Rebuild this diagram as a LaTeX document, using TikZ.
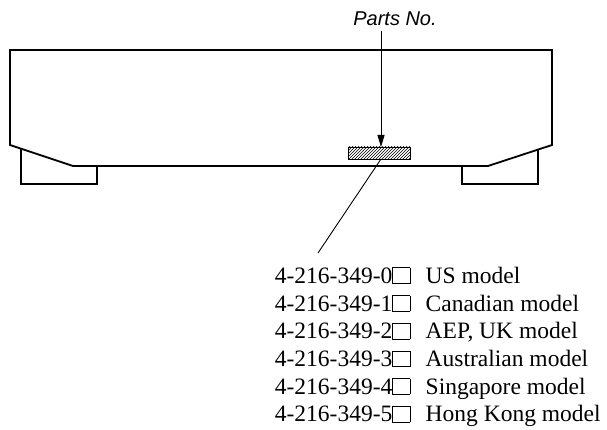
\documentclass[tikz,border=0pt]{standalone}
\usepackage{fontspec}
\setmainfont{Liberation Serif}
\newfontfamily\labelfont{Liberation Sans}
\usetikzlibrary{arrows.meta,patterns}
\newcommand{\emptybox}{{\setlength{\fboxrule}{0.8pt}\setlength{\fboxsep}{0pt}\fbox{\rule{0pt}{0.64em}\hspace{0.7em}}}}
\tikzset{
  outline/.style={line width=1.8pt, line join=miter},
  footline/.style={line width=1.6pt},
  listline/.style={anchor=base west, inner sep=0pt, font=\fontsize{23.5}{27.7}\selectfont},
  arrowline/.style={line width=0.9pt, -{Triangle[length=12pt,width=7pt]}},
}
\begin{document}
\begin{tikzpicture}[x=1pt,y=-1pt]
\useasboundingbox (0,0) rectangle (607,430);
% body
\draw[outline] (10,50) -- (552,50) -- (552,145) -- (488,166) -- (73,166) -- (10,145) -- cycle;
% feet
\draw[footline] (21,148.7) -- (21,184) -- (97,184) -- (97,166);
\draw[footline] (462,166) -- (462,184) -- (538,184) -- (538,149.6);
% label plate
\node[draw, line width=0.9pt, minimum width=62pt, minimum height=12pt, inner sep=0pt,
      pattern=north east lines] (plate) at (379,153) {};
% parts no
\node[inner sep=0pt, anchor=base, font=\labelfont\itshape\fontsize{20}{24}\selectfont] (partsno) at (395,26) {Parts No.};
\coordinate (atop) at (381,31);
\coordinate (abot) at (381,147);
\draw[arrowline] (atop) -- (abot);
\coordinate (lstart) at (381,159);
\coordinate (lend) at (318,253);
\draw[line width=0.9pt] (lstart) -- (lend);
% list
\node[listline] (m0) at (274.7,283.3) {4-216-349-0\emptybox\hspace{0.65em}US model};
\node[listline] (m1) at (274.7,311.0) {4-216-349-1\emptybox\hspace{0.65em}Canadian model};
\node[listline] (m2) at (274.7,338.7) {4-216-349-2\emptybox\hspace{0.65em}AEP, UK model};
\node[listline] (m3) at (274.7,366.4) {4-216-349-3\emptybox\hspace{0.65em}Australian model};
\node[listline] (m4) at (274.7,394.0) {4-216-349-4\emptybox\hspace{0.65em}Singapore model};
\node[listline] (m5) at (274.7,421.7) {4-216-349-5\emptybox\hspace{0.65em}Hong Kong model};
\end{tikzpicture}
\end{document}
